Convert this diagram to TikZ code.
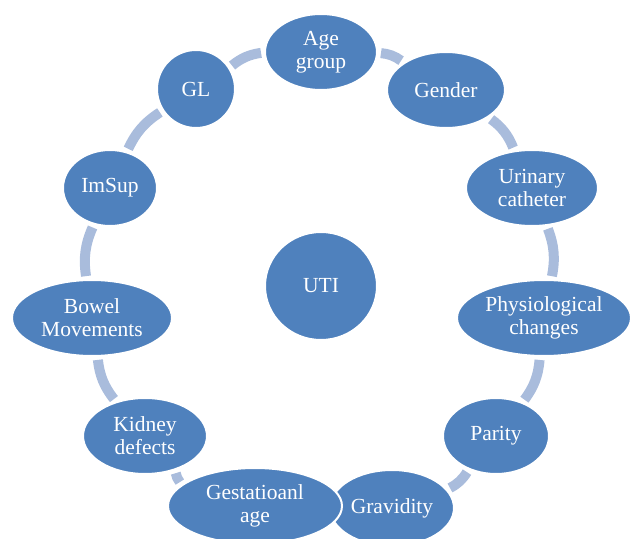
\documentclass[tikz,border=0pt]{standalone}
\usepackage{fontspec}
\setmainfont{Liberation Serif}
\usetikzlibrary{shapes.geometric,backgrounds}
\definecolor{nodeblue}{HTML}{4F81BD}
\definecolor{ringblue}{HTML}{A9BCDC}
\tikzset{
  item/.style={ellipse, fill=nodeblue, draw=white, line width=2pt, inner sep=0pt,
    text=white, align=center, font=\fontsize{21.5}{23}\selectfont},
  ring/.style={draw=ringblue, line width=10pt, shorten >=3pt, shorten <=3pt, bend left=16}
}
\begin{document}
\begin{tikzpicture}[x=1pt,y=1pt]
\useasboundingbox (0,0) rectangle (633,539);
\node[item, minimum width=112pt, minimum height=76pt] (age) at (321,487) {Age\\group};
\node[item, minimum width=118pt, minimum height=76pt] (gender) at (446,449) {Gender};
\node[item, minimum width=132pt, minimum height=76pt] (urin) at (532,351) {Urinary\\catheter};
\node[item, minimum width=174pt, minimum height=76pt] (phys) at (544,221) {Physiological\\changes};
\node[item, minimum width=106pt, minimum height=76pt] (parity) at (496,103) {Parity};
\node[item, minimum width=124pt, minimum height=76pt] (grav) at (392,31) {Gravidity};
\node[item, minimum width=174pt, minimum height=76pt] (gest) at (255,33) {Gestatioanl\\age};
\node[item, minimum width=124pt, minimum height=76pt] (kidney) at (145,103) {Kidney\\defects};
\node[item, minimum width=160pt, minimum height=76pt] (bowel) at (92,221) {Bowel\\Movements};
\node[item, minimum width=94pt, minimum height=76pt] (imsup) at (110,351) {ImSup};
\node[item, minimum width=78pt, minimum height=78pt] (gl) at (196,450) {GL};
\node[item, minimum width=112pt, minimum height=108pt] (uti) at (321,253) {UTI};
\begin{pgfonlayer}{background}
\draw[ring] (age) to (gender);
\draw[ring] (gender) to (urin);
\draw[ring] (urin) to (phys);
\draw[ring] (phys) to (parity);
\draw[ring] (parity) to (grav);
\draw[ring] (gest) to (kidney);
\draw[ring] (kidney) to (bowel);
\draw[ring] (bowel) to (imsup);
\draw[ring] (imsup) to (gl);
\draw[ring] (gl) to (age);
\end{pgfonlayer}
\end{tikzpicture}
\end{document}
